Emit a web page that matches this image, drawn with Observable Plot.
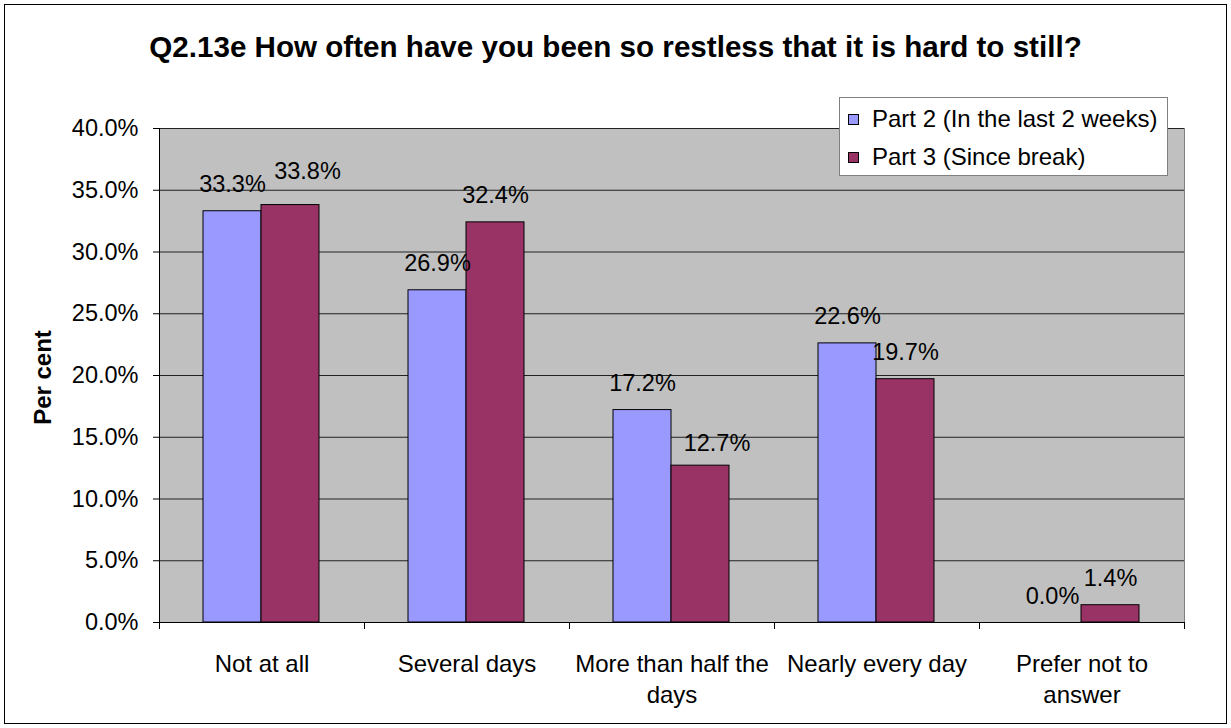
<!DOCTYPE html>
<html>
<head>
<meta charset="utf-8">
<script src="https://cdn.jsdelivr.net/npm/d3@7"></script>
<script src="https://cdn.jsdelivr.net/npm/@observablehq/plot@0.6"></script>
<style>
  html, body { margin: 0; padding: 0; background: #fff; }
  #chart { position: relative; width: 1231px; height: 728px; overflow: hidden;
           font-family: "Liberation Sans", Arial, sans-serif; color: #000; }
  #chart svg { position: absolute; left: 0; top: 0; }
  .border { position: absolute; left: 4px; top: 4px; width: 1223px; height: 720px;
            box-sizing: border-box; border: 1px solid #000; pointer-events: none; }
  .title { position: absolute; left: 0; width: 1231px; top: 32px; text-align: center;
           font-weight: bold; font-size: 29.6px; line-height: 29px; white-space: nowrap; }
  .legend { position: absolute; left: 839px; top: 97px; width: 329px; height: 79px;
            box-sizing: border-box; border: 1px solid #808080; background: #fff;
            padding-top: 2px; }
  .legend .row { display: flex; align-items: center; height: 38px; padding-left: 8px;
                 font-size: 24px; white-space: nowrap; }
  .legend .sw { width: 11px; height: 11px; box-sizing: border-box; border: 1px solid #000;
                margin-right: 13px; flex: none; }
</style>
</head>
<body>
<div id="chart"></div>
<script>
// Survey answers, in per cent of respondents
const categories = ["Not at all", "Several days", "More than half the days", "Nearly every day", "Prefer not to answer"];
const seriesNames = ["Part 2 (In the last 2 weeks)", "Part 3 (Since break)"];
const part2 = [33.3, 26.9, 17.2, 22.6, 0.0];
const part3 = [33.8, 32.4, 12.7, 19.7, 1.4];
const yTicks = [0, 5, 10, 15, 20, 25, 30, 35, 40];
const seriesColors = ["#9999ff", "#993366"];

const titleText = "Q2.13e How often have you been so restless that it is hard to still?";
const yLabel = "Per cent";

// Line breaks for the longer category names
const wrapped = {
  "More than half the days": "More than half the\ndays",
  "Prefer not to answer": "Prefer not to\nanswer"
};

// Labels moved aside where they would collide with a neighbouring bar
const labelNudge = {
  "Not at all|1": [17, -7],
  "More than half the days|1": [16.5, 4.5]
};

const W = 1231, H = 728;
const margin = {top: 128, right: 47, bottom: 106, left: 159};
const band = (W - margin.left - margin.right) / categories.length;
const barW = 58;
const outer = 44;
// Insets place the two series side by side within each category band
const insets = [
  {insetLeft: outer, insetRight: band - outer - barW},
  {insetLeft: outer + barW, insetRight: band - outer - 2 * barW}
];
const centerOffset = [outer + barW / 2 - band / 2, outer + barW * 1.5 - band / 2];

const rows = categories.flatMap((c, i) => [
  {category: c, s: 0, value: part2[i]},
  {category: c, s: 1, value: part3[i]}
]);

const fmt = v => v.toFixed(1) + "%";

const barMarks = [0, 1].map(s =>
  Plot.barY(rows.filter(r => r.s === s), {
    x: "category", y: "value",
    fill: seriesColors[s], stroke: "#000", strokeWidth: 1,
    ...insets[s]
  })
);

const labelMarks = rows.map(r => {
  const n = labelNudge[`${r.category}|${r.s}`] || [0, 0];
  return Plot.text([r], {
    x: "category", y: "value", text: d => fmt(d.value),
    dx: centerOffset[r.s] + n[0], dy: -19 + n[1],
    lineAnchor: "bottom", textAnchor: "middle",
    fontSize: 23.5, fill: "#000"
  });
});

const svg = Plot.plot({
  width: W, height: H,
  marginTop: margin.top, marginRight: margin.right,
  marginBottom: margin.bottom, marginLeft: margin.left,
  style: {fontFamily: "'Liberation Sans', Arial, sans-serif", fontSize: "24px", color: "#000", background: "transparent", overflow: "visible"},
  x: {type: "band", domain: categories, padding: 0},
  y: {domain: [0, 40]},
  marks: [
    Plot.frame({fill: "#c0c0c0", stroke: "#808080"}),
    Plot.gridY(yTicks, {stroke: "#222", strokeOpacity: 1}),
    ...barMarks,
    ...labelMarks,
    // left value axis line and bottom category axis line
    Plot.ruleX([categories[0]], {x: d => d, dx: -band / 2, stroke: "#000"}),
    Plot.ruleY([0], {stroke: "#000"}),
    // category boundary ticks below the axis
    Plot.ruleX(categories, {x: d => d, dx: -band / 2, y1: 0, y2: 0, insetBottom: -7, stroke: "#000"}),
    Plot.ruleX([categories[categories.length - 1]], {x: d => d, dx: band / 2, y1: 0, y2: 0, insetBottom: -7, stroke: "#000"}),
    Plot.axisY({ticks: yTicks, tickSize: 6, tickPadding: 15, tickFormat: fmt, fontSize: 23.5, label: null, stroke: "#000", strokeOpacity: 1}),
    Plot.axisX({tickSize: 0, tickPadding: 27, tickFormat: c => wrapped[c] || c, lineHeight: 1.3, fontSize: 24, label: null}),
    Plot.text([yLabel], {frameAnchor: "left", rotate: -90, dx: -109, dy: 2, lineAnchor: "bottom", textAnchor: "middle", fontWeight: "bold", fontSize: 24, fill: "#000"})
  ]
});

const chart = document.getElementById("chart");
chart.appendChild(svg);

const title = document.createElement("div");
title.className = "title";
title.textContent = titleText;
chart.appendChild(title);

const legend = document.createElement("div");
legend.className = "legend";
seriesNames.forEach((name, i) => {
  const row = document.createElement("div");
  row.className = "row";
  const sw = document.createElement("span");
  sw.className = "sw";
  sw.style.background = seriesColors[i];
  const t = document.createElement("span");
  t.textContent = name;
  row.appendChild(sw);
  row.appendChild(t);
  legend.appendChild(row);
});
chart.appendChild(legend);

const border = document.createElement("div");
border.className = "border";
chart.appendChild(border);
</script>
</body>
</html>
